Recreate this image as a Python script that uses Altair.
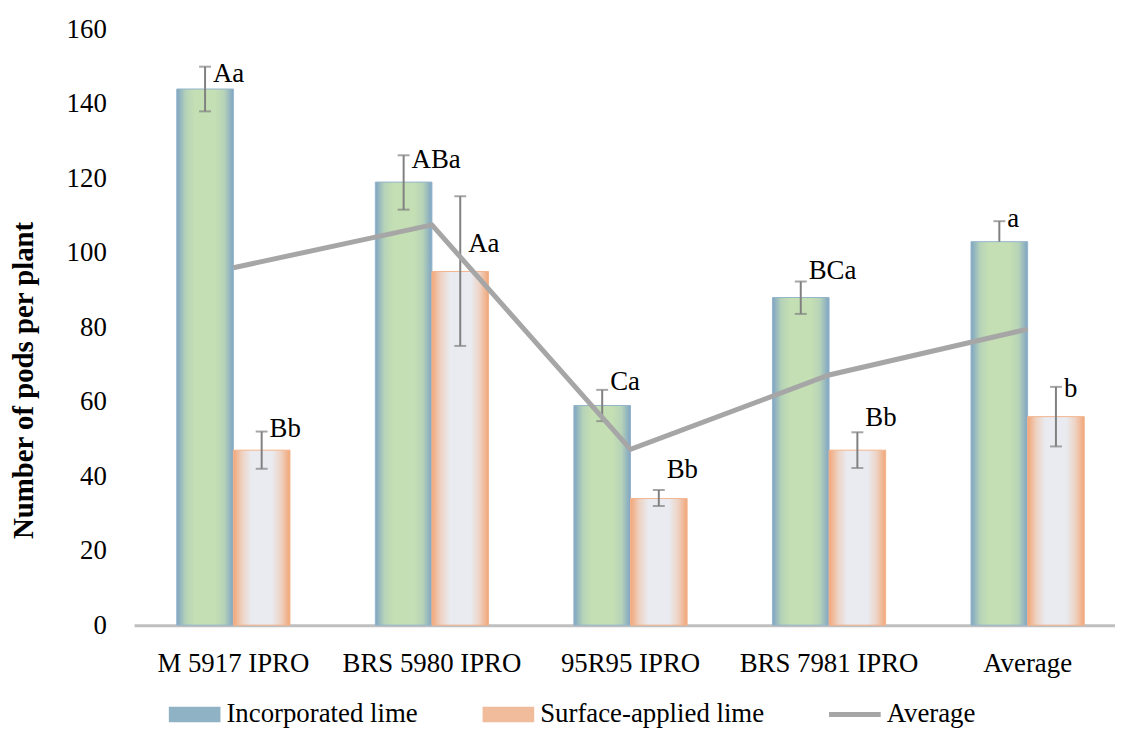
import altair as alt
import pandas as pd

categories = ["M 5917 IPRO", "BRS 5980 IPRO", "95R95 IPRO", "BRS 7981 IPRO", "Average"]
series = ["Incorporated lime", "Surface-applied lime"]

incorporated = [144, 119, 59, 88, 103]
incorporated_low = [138, 111.6, 54.8, 83.6, 103]
incorporated_high = [150, 126.2, 63.2, 92.3, 108.5]
incorporated_labels = ["Aa", "ABa", "Ca", "BCa", "a"]
incorporated_label_y = [148, 125, 65.3, 95, 109]

surface = [47, 95, 34, 47, 56]
surface_low = [42, 75, 32, 42.2, 48]
surface_high = [52, 115.2, 36.3, 51.8, 64]
surface_labels = ["Bb", "Aa", "Bb", "Bb", "b"]
surface_label_y = [52.8, 102.4, 41.6, 55.7, 63.5]

average_line = [96, 107.5, 47.2, 67.2, 79.5]

legend_names = ["Incorporated lime", "Surface-applied lime", "Average"]
legend_colors = ["#8fb3c4", "#f0bc9c", "#a6a6a6"]
legend_shapes = [
    "M-1,-0.3L1,-0.3L1,0.3L-1,0.3Z",
    "M-1,-0.3L1,-0.3L1,0.3L-1,0.3Z",
    "M-1,-0.1L1,-0.1L1,0.1L-1,0.1Z",
]

rows = []
for i, c in enumerate(categories):
    rows.append(dict(cat=c, series=series[0], value=incorporated[i], low=incorporated_low[i],
                     high=incorporated_high[i], label=incorporated_labels[i], label_y=incorporated_label_y[i]))
    rows.append(dict(cat=c, series=series[1], value=surface[i], low=surface_low[i],
                     high=surface_high[i], label=surface_labels[i], label_y=surface_label_y[i]))
df = pd.DataFrame(rows)
line_df = pd.DataFrame({"cat": categories, "avg": average_line})

FONT = "Liberation Serif"
FS = 27

x_scale = alt.Scale(domain=categories, range=[0, 1000], paddingInner=0, paddingOuter=0)
xoff_scale = alt.Scale(domain=series, paddingInner=0, paddingOuter=0.754)
y_scale = alt.Scale(domain=[0, 160], nice=False)

x_axis = alt.Axis(title=None, labelFont=FONT, labelFontSize=FS, labelColor="black", labelPadding=26,
                  labelLimit=0, ticks=False, grid=False, domainColor="#bfbfbf", domainWidth=3,
                  labelAngle=0)
y_axis = alt.Axis(title="Number of pods per plant", values=list(range(0, 161, 20)), domain=False,
                  ticks=False, grid=False, labelPadding=28, labelFont=FONT, labelFontSize=FS,
                  labelColor="black", titleFont=FONT, titleFontSize=29, titleFontWeight="bold",
                  titleColor="black", titleX=-111, titleY=353, titleAngle=270,
                  titleAlign="center", titleBaseline="middle")

green_grad = alt.Gradient(gradient="linear", x1=0, y1=0, x2=1, y2=0, stops=[
    alt.GradientStop(offset=0, color="#7fa4c3"),
    alt.GradientStop(offset=0.16, color="#b6d3b8"),
    alt.GradientStop(offset=0.32, color="#c4dfb3"),
    alt.GradientStop(offset=0.68, color="#c4dfb3"),
    alt.GradientStop(offset=0.84, color="#b6d3b8"),
    alt.GradientStop(offset=1, color="#7fa4c3"),
])
orange_grad = alt.Gradient(gradient="linear", x1=0, y1=0, x2=1, y2=0, stops=[
    alt.GradientStop(offset=0, color="#f2a678"),
    alt.GradientStop(offset=0.16, color="#eed3c4"),
    alt.GradientStop(offset=0.32, color="#e9ebf1"),
    alt.GradientStop(offset=0.68, color="#e9ebf1"),
    alt.GradientStop(offset=0.84, color="#eed3c4"),
    alt.GradientStop(offset=1, color="#f2a678"),
])

base = alt.Chart(df)

def xenc():
    return alt.X("cat:N", scale=x_scale, sort=categories, axis=x_axis)

def yenc(field):
    return alt.Y(field, scale=y_scale, axis=y_axis)

def xoff():
    return alt.XOffset("series:N", scale=xoff_scale)

bars_inc = base.transform_filter(alt.datum.series == series[0]).mark_bar(
    fill=green_grad, stroke="#93b4cc", strokeWidth=1).encode(
    x=xenc(), xOffset=xoff(), y=yenc("value:Q"),
)
bars_surf = base.transform_filter(alt.datum.series == series[1]).mark_bar(
    fill=orange_grad, stroke="#f2b38c", strokeWidth=1).encode(
    x=xenc(), xOffset=xoff(), y=yenc("value:Q"),
)

err = base.mark_rule(color="#808080", strokeWidth=2).encode(
    x=xenc(), xOffset=xoff(), y=yenc("low:Q"), y2="high:Q",
)
cap_hi = base.mark_tick(color="#808080", thickness=2, size=12).encode(
    x=xenc(), xOffset=xoff(), y=yenc("high:Q"),
)
cap_lo = base.transform_filter("datum.low < datum.value").mark_tick(
    color="#808080", thickness=2, size=12).encode(
    x=xenc(), xOffset=xoff(), y=yenc("low:Q"),
)

line = alt.Chart(line_df).mark_line(color="#a6a6a6", strokeWidth=5).encode(
    x=xenc(), y=yenc("avg:Q"),
)

labels = base.mark_text(align="left", baseline="middle", dx=8, font=FONT, fontSize=FS,
                        color="black").encode(
    x=xenc(), xOffset=xoff(), y=yenc("label_y:Q"), text="label:N",
)

legend_kw = dict(orient="none", legendX=35, legendY=664, direction="horizontal", title=None,
                 labelFont=FONT, labelFontSize=FS, labelColor="black", labelLimit=0,
                 symbolSize=2704, symbolStrokeWidth=0, columnPadding=65, labelOffset=6,
                 symbolOpacity=1)
legend_layer = base.transform_filter("false").mark_point(filled=True, opacity=1).encode(
    x=xenc(), y=yenc("value:Q"),
    color=alt.Color("series:N", scale=alt.Scale(domain=legend_names, range=legend_colors),
                    legend=alt.Legend(**legend_kw)),
    shape=alt.Shape("series:N", scale=alt.Scale(domain=legend_names, range=legend_shapes),
                    legend=alt.Legend(**legend_kw)),
)

chart = alt.layer(bars_inc, bars_surf, err, cap_hi, cap_lo, line, labels, legend_layer).properties(
    width=988, height=600,
    autosize=alt.AutoSizeParams(type="none"),
    padding={"left": 127, "top": 19, "right": 0, "bottom": 103},
).configure(font=FONT, view=alt.ViewConfig(stroke=None))

chart.save("out.html", embed_options={"renderer": "svg", "actions": False})
